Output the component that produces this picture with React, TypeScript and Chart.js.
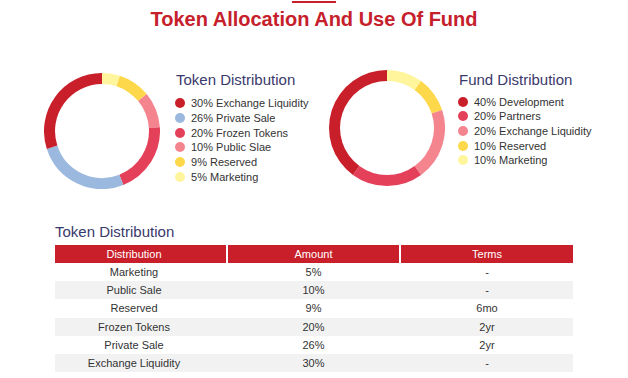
import React, { useEffect, useRef } from "react";
import { Chart, registerables } from "chart.js";

Chart.register(...registerables);

// Token distribution doughnut (clockwise from 12 o'clock)
const tokenLabels = ["Marketing", "Reserved", "Public Slae", "Frozen Tokens", "Private Sale", "Exchange Liquidity"];
const tokenValues = [5, 9, 10, 20, 26, 30];
const tokenColors = ["#fff59c", "#fdd84a", "#f4858f", "#e5405a", "#9bb8de", "#c91f2b"];

// Fund distribution doughnut (clockwise from 12 o'clock)
const fundLabels = ["Marketing", "Reserved", "Exchange Liquidity", "Partners", "Development"];
const fundValues = [10, 10, 20, 20, 40];
const fundColors = ["#fff59c", "#fdd84a", "#f4858f", "#e5405a", "#c91f2b"];

// Table
const tableHeaders = ["Distribution", "Amount", "Terms"];
const tableDistribution = ["Marketing", "Public Sale", "Reserved", "Frozen Tokens", "Private Sale", "Exchange Liquidity"];
const tableAmount = ["5%", "10%", "9%", "20%", "26%", "30%"];
const tableTerms = ["-", "-", "6mo", "2yr", "2yr", "-"];

const FONT = '"Liberation Sans", Arial, Helvetica, sans-serif';
const RED = "#c91f2b";
const NAVY = "#3a396c";

function Doughnut({ labels, values, colors, left, top, size }: any) {
  const ref = useRef<HTMLCanvasElement | null>(null);
  useEffect(() => {
    if (!ref.current) return;
    const chart = new Chart(ref.current, {
      type: "doughnut",
      data: {
        labels,
        datasets: [{ data: values, backgroundColor: colors, borderWidth: 0 }],
      },
      options: {
        responsive: false,
        animation: false,
        cutout: "81%",
        layout: { padding: 0 },
        plugins: { legend: { display: false }, tooltip: { enabled: false } },
      },
    });
    return () => chart.destroy();
  }, []);
  return (
    <canvas
      ref={ref}
      width={size}
      height={size}
      style={{ position: "absolute", left, top, width: size, height: size }}
    />
  );
}

function Legend({ title, labels, values, colors, left, top, dotX, textX, step, firstY }: any) {
  const items = labels.map((l: string, i: number) => ({ l, v: values[i], c: colors[i] })).reverse();
  return (
    <>
      <div
        style={{
          position: "absolute",
          left,
          top,
          fontFamily: FONT,
          fontSize: 15,
          lineHeight: "18px",
          color: NAVY,
          whiteSpace: "nowrap",
        }}
      >
        {title}
      </div>
      {items.map((it: any, i: number) => (
        <div key={i}>
          <div
            style={{
              position: "absolute",
              left: dotX - 5,
              top: firstY + i * step - 5,
              width: 10,
              height: 10,
              borderRadius: 5,
              background: it.c,
            }}
          />
          <div
            style={{
              position: "absolute",
              left: textX,
              top: firstY + i * step - 7,
              fontFamily: FONT,
              fontSize: 11,
              lineHeight: "14px",
              color: "#333",
              whiteSpace: "nowrap",
            }}
          >
            {it.v}% {it.l}
          </div>
        </div>
      ))}
    </>
  );
}

export default function App() {
  useEffect(() => {
    document.body.style.margin = "0";
  }, []);
  const colLeft = [55, 228, 401];
  const colWidth = [171, 171, 172];
  const rowH = 18.2;
  return (
    <div style={{ position: "relative", width: 628, height: 378, background: "#fff", overflow: "hidden" }}>
      <style>{"body{margin:0}"}</style>
      <div style={{ position: "absolute", left: 292, top: 1, width: 44, height: 2, background: RED }} />
      <div
        style={{
          position: "absolute",
          left: 0,
          width: 628,
          top: 7,
          textAlign: "center",
          fontFamily: FONT,
          fontWeight: "bold",
          fontSize: 20,
          lineHeight: "24px",
          color: "#c5202b",
        }}
      >
        Token Allocation And Use Of Fund
      </div>

      <Doughnut labels={tokenLabels} values={tokenValues} colors={tokenColors} left={44} top={73} size={116} />
      <Legend
        title="Token Distribution"
        labels={tokenLabels}
        values={tokenValues}
        colors={tokenColors}
        left={176}
        top={71}
        dotX={180}
        textX={191}
        step={14.9}
        firstY={102.7}
      />

      <Doughnut labels={fundLabels} values={fundValues} colors={fundColors} left={329} top={70} size={116} />
      <Legend
        title="Fund Distribution"
        labels={fundLabels}
        values={fundValues}
        colors={fundColors}
        left={459}
        top={71}
        dotX={463}
        textX={474}
        step={14.6}
        firstY={101.7}
      />

      <div
        style={{
          position: "absolute",
          left: 55,
          top: 223,
          fontFamily: FONT,
          fontSize: 15,
          lineHeight: "18px",
          color: NAVY,
        }}
      >
        Token Distribution
      </div>

      {tableHeaders.map((h, i) => (
        <div
          key={h}
          style={{
            position: "absolute",
            left: colLeft[i],
            top: 245,
            width: colWidth[i],
            height: 18,
            background: RED,
            color: "#fff",
            fontFamily: FONT,
            fontSize: 11,
            lineHeight: "18px",
            textAlign: "center",
            boxSizing: "border-box",
            paddingRight: i === 0 ? 13 : 0,
          }}
        >
          {h}
        </div>
      ))}

      {tableDistribution.map((d, r) => (
        <div
          key={d}
          style={{
            position: "absolute",
            left: 55,
            top: 263 + r * rowH,
            width: 518,
            height: rowH,
            background: r % 2 === 1 ? "#f2f2f2" : "#fff",
            fontFamily: FONT,
            fontSize: 11,
            lineHeight: `${rowH}px`,
            color: "#333",
          }}
        >
          {[d, tableAmount[r], tableTerms[r]].map((t, i) => (
            <div
              key={i}
              style={{
                position: "absolute",
                left: colLeft[i] - 55,
                width: colWidth[i],
                top: 0,
                textAlign: "center",
                boxSizing: "border-box",
                paddingRight: i === 0 ? 13 : 0,
              }}
            >
              {t}
            </div>
          ))}
        </div>
      ))}
    </div>
  );
}
